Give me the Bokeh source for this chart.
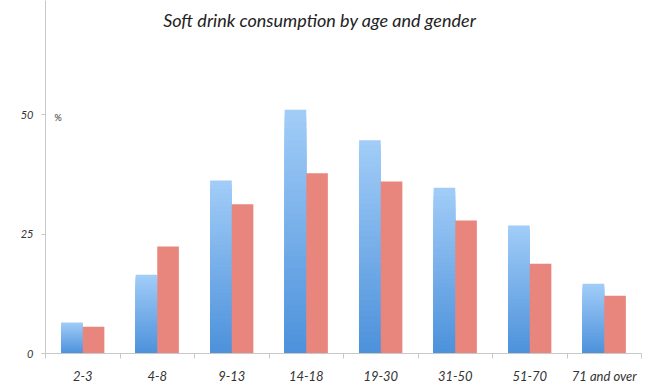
from bokeh.plotting import figure
from bokeh.models import Range1d, FixedTicker, Label
from bokeh.embed import file_html
from bokeh.resources import INLINE

# Share of people drinking soft drinks (%), by age group
age_groups = ["2-3", "4-8", "9-13", "14-18", "19-30", "31-50", "51-70", "71 and over"]
male = [6.5, 16.5, 36.2, 51.0, 44.6, 34.7, 26.8, 14.6]
female = [5.6, 22.4, 31.2, 37.7, 36.0, 27.8, 18.8, 12.1]
y_ticks = [0, 25, 50]

FONT = "Lato"
BAR_W = 0.29
BLUE_BOTTOM = (76, 145, 219)
BLUE_TOP = (162, 205, 248)
RED = "#e8857c"

p = figure(width=650, height=387, output_backend="svg", toolbar_location=None,
           x_range=Range1d(0, len(age_groups)), y_range=Range1d(0, 73.85),
           min_border_left=45, min_border_right=9, min_border_top=0, min_border_bottom=34)
p.outline_line_color = None
p.grid.grid_line_color = None
p.background_fill_color = "white"
p.border_fill_color = "white"

centers = [i + 0.5 for i in range(len(age_groups))]

# Male bars: vertical gradient made of overlapping layers, lightest (full height) first
n_slices = 40
xs, tops, colors = [], [], []
for k in reversed(range(n_slices)):
    t = (k + 0.5) / n_slices
    rgb = tuple(int(round(a + (b - a) * t)) for a, b in zip(BLUE_BOTTOM, BLUE_TOP))
    for c, v in zip(centers, male):
        xs.append(c - BAR_W / 2)
        tops.append(v * (k + 1) / n_slices)
        colors.append("#%02x%02x%02x" % rgb)
p.vbar(x=xs, bottom=0, top=tops, width=BAR_W, fill_color=colors, line_color=None)

# Female bars
p.vbar(x=[c + BAR_W / 2 for c in centers], top=female, width=BAR_W,
       fill_color=RED, line_color=None)

# Axes
xa = p.xaxis[0]
xa.ticker = FixedTicker(ticks=centers, minor_ticks=list(range(len(age_groups) + 1)))
xa.major_label_overrides = {c: g for c, g in zip(centers, age_groups)}
xa.major_tick_line_color = None
xa.minor_tick_line_color = "#c8c8c8"
xa.minor_tick_out = 5
xa.minor_tick_in = 0
xa.axis_line_color = "#c8c8c8"
xa.major_label_text_font = FONT
xa.major_label_text_font_style = "italic"
xa.major_label_text_font_size = "13px"
xa.major_label_text_color = "#333333"
xa.major_label_standoff = 8

ya = p.yaxis[0]
ya.ticker = FixedTicker(ticks=y_ticks)
ya.minor_tick_line_color = None
ya.major_tick_line_color = "#c8c8c8"
ya.major_tick_out = 4
ya.major_tick_in = 0
ya.axis_line_color = "#c8c8c8"
ya.major_label_text_font = FONT
ya.major_label_text_font_style = "italic"
ya.major_label_text_font_size = "11px"
ya.major_label_text_color = "#333333"
ya.major_label_standoff = 8

p.add_layout(Label(x=0.12, y=49.3, text="%", text_font=FONT, text_font_size="9px",
                   text_color="#333333", text_baseline="middle"))
p.add_layout(Label(x=3.68, y=69.7, text="Soft drink consumption by age and gender",
                   text_font=FONT, text_font_style="italic", text_font_size="18px",
                   text_color="#222222", text_align="center", text_baseline="middle"))

open("out.html", "w").write(file_html(p, INLINE))
